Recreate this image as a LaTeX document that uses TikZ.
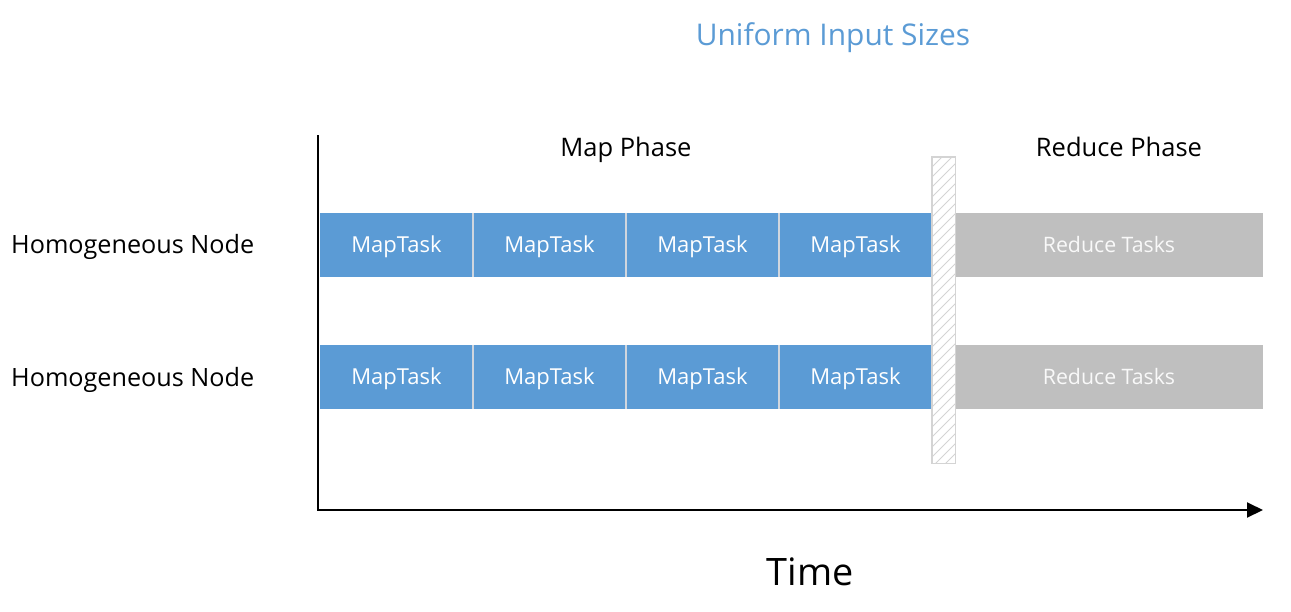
\documentclass[tikz,border=0pt]{standalone}
\usepackage{fontspec}
\setmainfont{Open Sans}
\usetikzlibrary{arrows.meta}
\definecolor{mapblue}{HTML}{5B9BD5}
\definecolor{redgray}{HTML}{BFBFBF}
\definecolor{sepgray}{HTML}{D0D6DE}
\definecolor{titleblue}{HTML}{5B9BD5}
\definecolor{bargray}{HTML}{D4D4D4}
\begin{document}
\begin{tikzpicture}[x=1pt,y=-1pt,
  capbox/.style={text height=#1,text depth=0pt},
  maptask/.style={rectangle,fill=mapblue,minimum width=153pt,minimum height=64pt,inner sep=0pt,text=white,font=\fontsize{22}{26}\selectfont,capbox=15.7pt},
  redtask/.style={rectangle,fill=redgray,minimum width=308pt,minimum height=64pt,inner sep=0pt,text=white!95!gray,font=\fontsize{21.3}{26}\selectfont,capbox=15.2pt},
  sepline/.style={draw=sepgray,line width=1.6pt},
  rowlabel/.style={anchor=west,inner sep=0pt,font=\fontsize{25.2}{30}\selectfont,capbox=18pt},
  phaselabel/.style={inner sep=0pt,font=\fontsize{25.5}{30}\selectfont,capbox=18.2pt},
  stripe/.style={draw=bargray,line width=0.9pt},
  axisline/.style={draw=black,line width=2pt}]
\useasboundingbox (0,0) rectangle (1291,611);
% title
\node[inner sep=0pt,text=titleblue,font=\fontsize{29.9}{34}\selectfont,capbox=21.3pt] (title) at (833,35) {Uniform Input Sizes};
% phase labels
\node[phaselabel] (mapphase) at (626,147) {Map Phase};
\node[phaselabel] (redphase) at (1119,147) {Reduce Phase};
% row labels
\node[rowlabel] (row1) at (11,244) {Homogeneous Node};
\node[rowlabel] (row2) at (11,377) {Homogeneous Node};
% map tasks
\foreach \r/\y in {1/245,2/377}{
  \node[maptask] (m\r1) at (396.5,\y) {MapTask};
  \node[maptask] (m\r2) at (549.5,\y) {MapTask};
  \node[maptask] (m\r3) at (702.5,\y) {MapTask};
  \node[maptask] (m\r4) at (855.5,\y) {MapTask};
  \node[redtask] (red\r) at (1109,\y) {Reduce Tasks};
  \draw[sepline] (m\r1.north east) -- (m\r1.south east);
  \draw[sepline] (m\r2.north east) -- (m\r2.south east);
  \draw[sepline] (m\r3.north east) -- (m\r3.south east);
}
% barrier
\node[rectangle,draw=bargray,fill=white,line width=1pt,minimum width=23pt,minimum height=306pt,inner sep=0pt] (bar) at (943.5,310) {};
\begin{scope}
  \clip (bar.south west) rectangle (bar.north east);
  \foreach \k in {0,...,34}{
    \draw[stripe] (932,{157+\k*10}) -- ++(24,-24);
  }
\end{scope}
\draw[draw=bargray,line width=1pt] (bar.south west) rectangle (bar.north east);
% axes
\coordinate (ytop) at (318,135);
\coordinate (origin) at (318,510);
\coordinate (xend) at (1263,510);
\draw[axisline,-{Triangle[length=16pt,width=15pt]}] (ytop) -- (origin) -- (xend);
% time label
\node[inner sep=0pt,font=\fontsize{37.8}{44}\selectfont,capbox=27pt] (time) at (810,572) {Time};
\end{tikzpicture}
\end{document}
